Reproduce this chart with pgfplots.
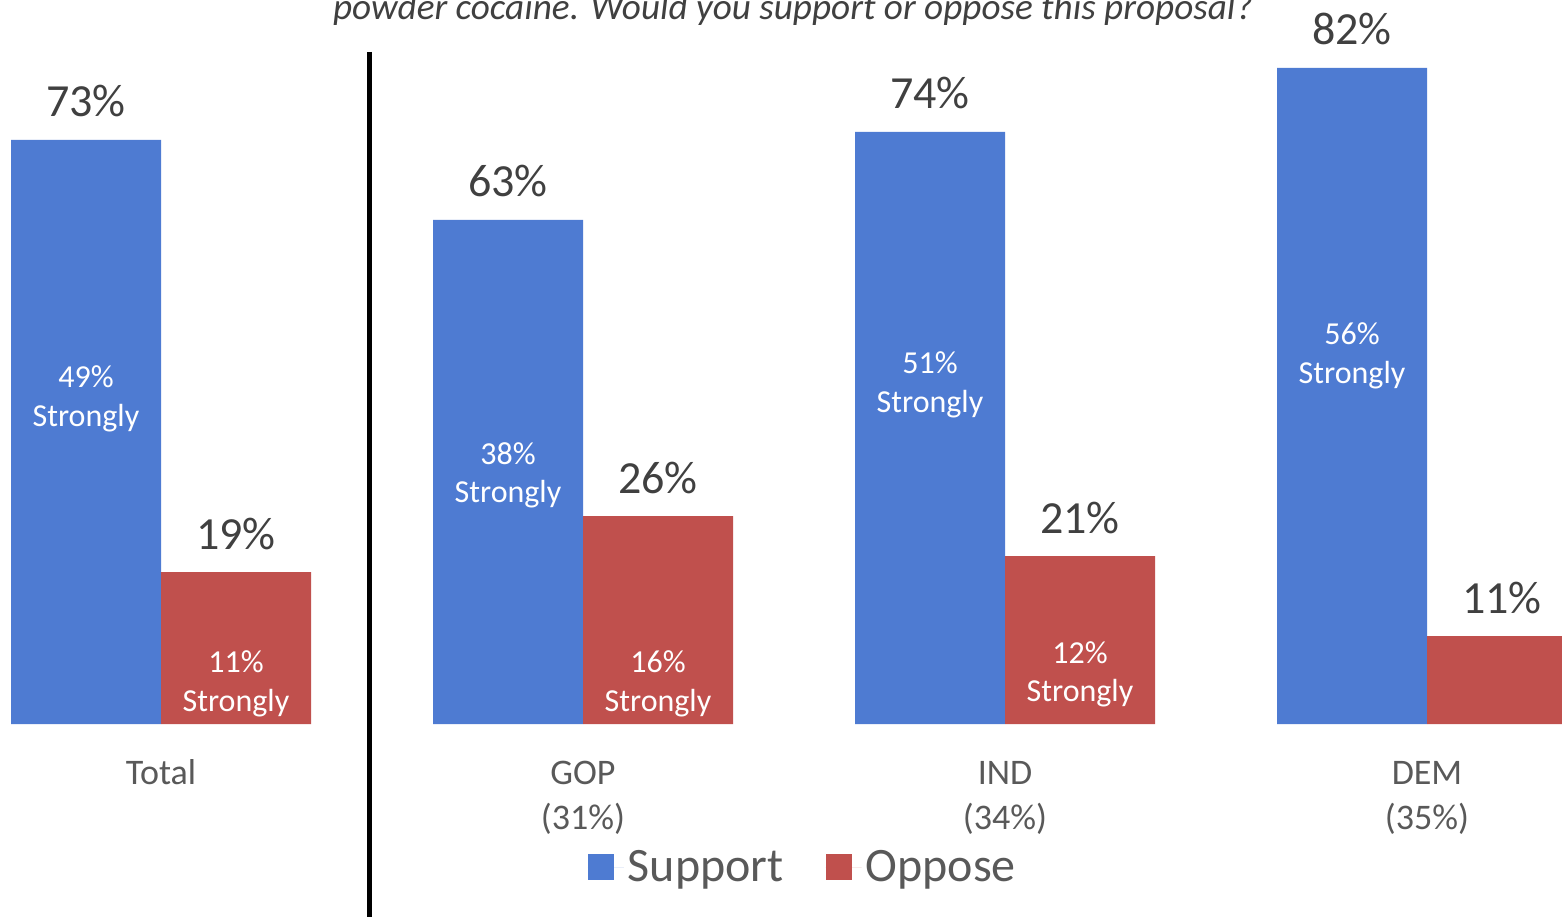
\documentclass[border=0pt]{standalone}
\usepackage{pgfplots}
\pgfplotsset{compat=1.18}
\usepackage{fontspec}
\setmainfont{Carlito}
\definecolor{barblue}{HTML}{4E7BD2}
\definecolor{barred}{HTML}{C0504D}
\definecolor{txtdark}{HTML}{404040}
\definecolor{txtgray}{HTML}{595959}
\newcommand{\inlab}[4]{%
  \node[anchor=base, text=white, font=\fontsize{16}{19}\selectfont, xshift=#2] at (axis cs:#1,#3) {#4\%};
  \node[anchor=base, text=white, font=\fontsize{16}{19}\selectfont, xshift=#2, yshift=-19.3pt] at (axis cs:#1,#3) {Strongly};
}
\begin{document}
\begin{tikzpicture}[x=1pt,y=1pt]
\useasboundingbox (0,-96.5) rectangle (781,362);
\clip (0,-96.5) rectangle (781,362);
\begin{axis}[
  at={(0,0)}, anchor=south west,
  scale only axis, width=781pt, height=362pt,
  xmin=-0.38152, xmax=3.31991, ymin=0, ymax=90.5,
  axis line style={draw=none}, tick style={draw=none},
  /pgf/number format/assume math mode=true,
  ytick=\empty,
  xtick={0,1,2,3},
  xticklabels={{Total\\\phantom{(31\%)}},{GOP\\(31\%)},{IND\\(34\%)},{DEM\\(35\%)}},
  xticklabel style={anchor=base, yshift=-48.5pt, align=center, text=txtgray,
    font=\fontsize{18}{22.5}\selectfont},
  ybar=0pt, bar width=75pt,
  nodes near coords={\pgfmathprintnumber{\pgfplotspointmeta}\%},
  every node near coord/.append style={anchor=base, yshift=11.5pt, text=txtdark,
    font=\fontsize{23}{27}\selectfont},
  legend columns=2,
  legend style={draw=none, fill=none, at={(0.5146,-0.1975)}, anchor=center,
    font=\fontsize{24}{28}\selectfont, text=txtgray,
    /tikz/every even column/.append style={column sep=19pt}},
  legend image code/.code={\fill[#1] (0pt,-6.5pt) rectangle (13pt,6.5pt); \path (0pt,0pt) -- (18pt,0pt);},
]
\addplot[fill=barblue, draw=none] coordinates {(0,73) (1,63) (2,74) (3,82)};
\addplot[fill=barred, draw=none] coordinates {(0,19) (1,26) (2,21) (3,11)};
\legend{Support, Oppose}
\inlab{0}{-37.5pt}{42.0}{49}
\inlab{1}{-37.5pt}{32.5}{38}
\inlab{2}{-37.5pt}{43.75}{51}
\inlab{3}{-37.5pt}{47.4}{56}
\inlab{0}{37.5pt}{6.4}{11}
\inlab{1}{37.5pt}{6.4}{16}
\inlab{2}{37.5pt}{7.6}{12}
\end{axis}
\draw[line width=2.5pt] (184.5,336) -- (184.5,-96.5);
\node[anchor=base, font=\itshape\fontsize{18.6}{22}\selectfont, text=txtdark] at (396.5,352) {powder cocaine. Would you support or oppose this proposal?};
\end{tikzpicture}
\end{document}
